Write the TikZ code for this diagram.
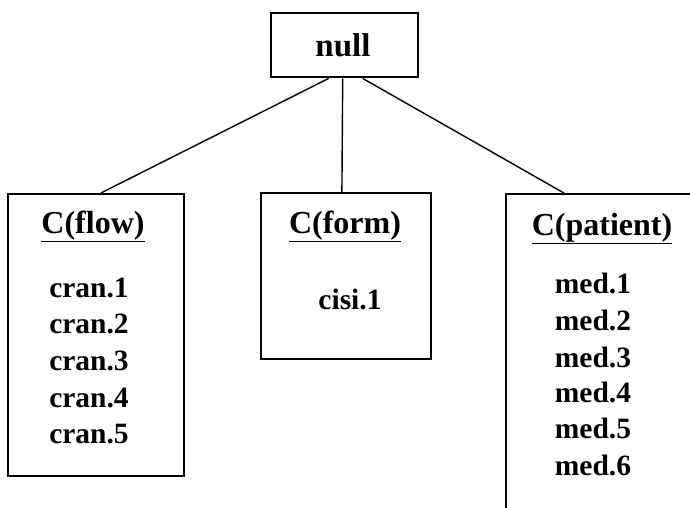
\documentclass[tikz,border=0pt]{standalone}
\usepackage{fontspec}
\setmainfont{Liberation Serif}
\begin{document}
\begin{tikzpicture}[x=1pt,y=-1pt,
  boxstyle/.style={draw=black,line width=1.8pt,fill=white,inner sep=0pt,anchor=north west},
  conn/.style={draw=black,line width=1.4pt},
  head/.style={font=\bfseries\fontsize{32}{36}\selectfont,anchor=base,inner sep=0pt},
  item/.style={font=\bfseries\fontsize{29.5}{34}\selectfont,anchor=base,inner sep=0pt},
  toptext/.style={font=\bfseries\fontsize{33}{36}\selectfont,anchor=base,inner sep=0pt}]
\useasboundingbox (0,0) rectangle (690,508);
\fill[white] (0,0) rectangle (690,508);
\clip (0,0) rectangle (690,508);
% boxes
\node[boxstyle,line width=2.4pt,minimum width=147pt,minimum height=64pt] (null) at (270,12) {};
\node[boxstyle,minimum width=176pt,minimum height=282pt] (flow) at (7,193) {};
\node[boxstyle,minimum width=170pt,minimum height=166pt] (form) at (260,192) {};
\node[boxstyle,minimum width=200pt,minimum height=340pt] (patient) at (505,193) {};
% connectors
\draw[conn] ([xshift=-16pt]null.south) -- ([xshift=5pt]flow.north);
\draw[conn] ([xshift=-2pt]null.south) -- ([xshift=-4pt]form.north);
\draw[conn] ([xshift=18pt]null.south) -- ([xshift=-42pt]patient.north);
% texts
\node[toptext] (tnull) at (343,57) {null};
\node[head] (hflow) at (93,233) {\underline{C(flow)}};
\node[item] (c1) at (89,297) {cran.1};
\node[item] (c2) at (89,333) {cran.2};
\node[item] (c3) at (89,370) {cran.3};
\node[item] (c4) at (89,407) {cran.4};
\node[item] (c5) at (89,443) {cran.5};
\node[head] (hform) at (345,233) {\underline{C(form)}};
\node[item] (s1) at (350,309) {cisi.1};
\node[head] (hpat) at (602,235) {\underline{C(patient)}};
\node[item] (m1) at (593,293) {med.1};
\node[item] (m2) at (593,330) {med.2};
\node[item] (m3) at (593,367) {med.3};
\node[item] (m4) at (593,402) {med.4};
\node[item] (m5) at (593,438) {med.5};
\node[item] (m6) at (593,475) {med.6};
\end{tikzpicture}
\end{document}
